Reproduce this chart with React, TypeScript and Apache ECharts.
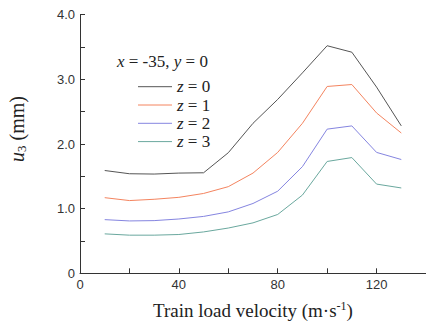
import React, { useEffect, useRef } from "react";
import * as echarts from "echarts";

const velocities = [10, 20, 30, 40, 50, 60, 70, 80, 90, 100, 110, 120, 130];
const z0 = [1.59, 1.54, 1.535, 1.55, 1.555, 1.865, 2.32, 2.69, 3.1, 3.52, 3.42, 2.88, 2.28];
const z1 = [1.17, 1.125, 1.145, 1.175, 1.235, 1.34, 1.55, 1.87, 2.32, 2.89, 2.92, 2.48, 2.17];
const z2 = [0.83, 0.81, 0.815, 0.84, 0.88, 0.95, 1.08, 1.27, 1.65, 2.23, 2.28, 1.87, 1.76];
const z3 = [0.61, 0.59, 0.59, 0.6, 0.64, 0.7, 0.78, 0.91, 1.21, 1.73, 1.79, 1.38, 1.32];
const seriesNames = ["z = 0", "z = 1", "z = 2", "z = 3"];
const seriesColors = ["#555555", "#f4845f", "#8585e0", "#6aa89e"];
const seriesValues = [z0, z1, z2, z3];

export default function App() {
  const ref = useRef<HTMLDivElement>(null);
  useEffect(() => {
    const chart = echarts.init(ref.current!, null, { renderer: "svg" });
    const serif = "Liberation Serif";
    const sans = "Liberation Sans";
    const txt = "#222";
    const richSerif = (size: number) => ({
      i: { fontFamily: serif, fontSize: size, fontStyle: "italic", fill: txt },
      n: { fontFamily: serif, fontSize: size, fill: txt },
    });
    const legendTop = 86.7;
    const legendStep = 18.3;
    const legendGraphics: any[] = [];
    seriesNames.forEach((name, i) => {
      const y = legendTop + i * legendStep;
      legendGraphics.push({
        type: "line",
        shape: { x1: 138, y1: y, x2: 172, y2: y },
        style: { stroke: seriesColors[i], lineWidth: 1 },
      });
      legendGraphics.push({
        type: "text",
        x: 177,
        y,
        style: {
          text: "{i|z}{n|" + name.slice(1) + "}",
          fontFamily: serif,
          fontSize: 17,
          fill: txt,
          align: "left",
          verticalAlign: "middle",
          rich: richSerif(17),
        },
      });
    });
    chart.setOption({
      animation: false,
      backgroundColor: "#ffffff",
      grid: { left: 80, right: 0, top: 14.7, bottom: 53.7, containLabel: false, outerBoundsMode: "none" },
      xAxis: {
        type: "value",
        min: 0,
        max: 140,
        interval: 20,
        name: "{n|Train load velocity (m·s}{s|-1}{n|)}",
        nameLocation: "middle",
        nameGap: 27,
        nameTextStyle: {
          fontFamily: serif,
          fontSize: 19,
          color: txt,
          rich: {
            n: { fontFamily: serif, fontSize: 19, color: txt },
            s: { fontFamily: serif, fontSize: 12, color: txt, verticalAlign: "top", padding: [0, 0, 8, 0] },
          },
        },
        axisLine: { lineStyle: { color: "#333", width: 1 } },
        axisTick: { inside: true, length: 5, lineStyle: { color: "#333" } },
        splitLine: { show: false },
        axisLabel: {
          fontFamily: sans,
          fontSize: 13,
          color: "#333",
          margin: 5,
          showMaxLabel: false,
          formatter: (v: number) => (v % 40 === 0 ? String(v) : ""),
        },
      },
      yAxis: {
        type: "value",
        min: 0,
        max: 4,
        interval: 0.5,
        axisLine: { show: true, lineStyle: { color: "#333", width: 1 } },
        axisTick: { show: true, inside: true, length: 5, lineStyle: { color: "#333" } },
        splitLine: { show: false },
        axisLabel: {
          fontFamily: sans,
          fontSize: 13,
          color: "#333",
          margin: 5,
          formatter: (v: number) =>
            Math.abs(v % 1) < 1e-9 ? (v === 0 ? "0" : v.toFixed(1)) : "",
        },
      },
      graphic: [
        {
          type: "text",
          x: 17,
          y: 129,
          rotation: Math.PI / 2,
          style: {
            text: "{i|u}{s|3}{n| (mm)}",
            fontFamily: serif,
            fontSize: 20,
            fill: txt,
            align: "center",
            verticalAlign: "middle",
            rich: {
              ...richSerif(20),
              s: { fontFamily: serif, fontSize: 13, fill: txt, verticalAlign: "bottom", padding: [8, 0, 0, 0] },
            },
          },
        },
        {
          type: "text",
          x: 117,
          y: 61.5,
          style: {
            text: "{i|x}{n| = -35, }{i|y}{n| = 0}",
            fontFamily: serif,
            fontSize: 17,
            fill: txt,
            align: "left",
            verticalAlign: "middle",
            rich: richSerif(17),
          },
        },
        ...legendGraphics,
      ],
      series: seriesNames.map((name, i) => ({
        name,
        type: "line",
        symbol: "none",
        data: velocities.map((v, j) => [v, seriesValues[i][j]]),
        lineStyle: { color: seriesColors[i], width: 1 },
        itemStyle: { color: seriesColors[i] },
      })),
    });
    return () => chart.dispose();
  }, []);
  return <div ref={ref} style={{ width: 426, height: 327, position: "absolute", left: 0, top: 0 }} />;
}
